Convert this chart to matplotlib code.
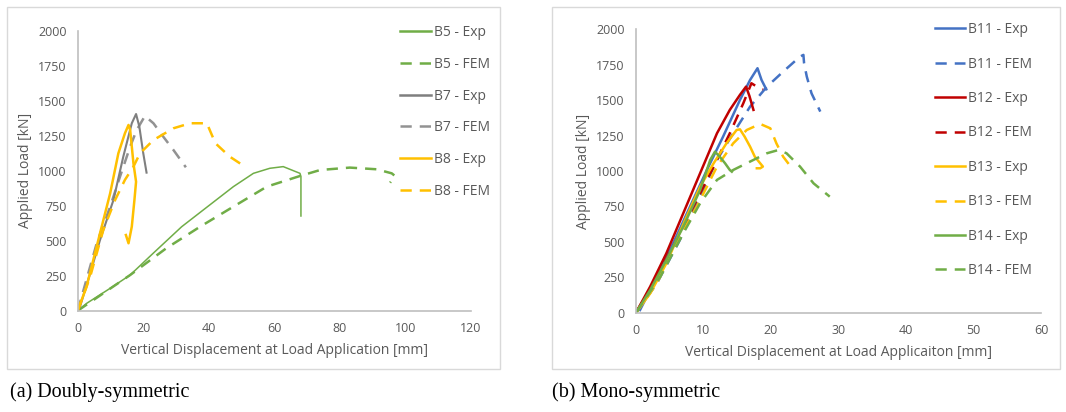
import matplotlib.pyplot as plt
from matplotlib.patches import Rectangle

plt.rcParams['font.family'] = ['Open Sans', 'DejaVu Sans']

# (a) doubly-symmetric: displacement [mm], load [kN]
b5_exp_x = [0, 2.7, 9.9, 16, 23, 31.7, 38.3, 47.5, 53.6, 58.6, 62.7, 67.8, 68.1, 68.1]
b5_exp_y = [0, 52, 160, 255, 410, 600, 720, 887, 982, 1018, 1030, 982, 960, 677]
b5_fem_x = [0, 16, 27, 37.3, 47.5, 57.7, 67.8, 74, 83, 91.2, 95.8, 96.8, 95.3]
b5_fem_y = [0, 255, 446, 600, 744, 887, 963, 1006, 1023, 1011, 982, 963, 915]
b7_exp_x = [0, 0.7, 3.8, 6.8, 10.9, 13.9, 16.5, 17.8, 18.8, 20, 21]
b7_exp_y = [0, 29, 267, 505, 791, 1101, 1340, 1406, 1316, 1125, 987]
b7_fem_x = [0, 5.8, 9.9, 12.9, 16, 18, 20.5, 23.1, 26.1, 29.2, 33]
b7_fem_y = [0, 482, 744, 958, 1173, 1292, 1392, 1340, 1244, 1149, 1025]
b8_exp_x = [0, 2.7, 6.8, 9.9, 12.4, 14.4, 15.5, 16, 16.5, 17, 17.8, 17.3, 16.5, 15.5, 14.7]
b8_exp_y = [0, 172, 553, 839, 1125, 1268, 1328, 1292, 1173, 1054, 922, 791, 601, 482, 541]
b8_fem_x = [0, 3.8, 7.8, 11.4, 14.4, 17, 19, 23.1, 29.2, 34.3, 39.4, 42, 46.4, 51]
b8_fem_y = [0, 243, 577, 791, 935, 1030, 1125, 1220, 1304, 1340, 1340, 1197, 1101, 1030]

# (b) mono-symmetric
b11_exp_x = [0.6, 3.1, 5.5, 8, 10.5, 12.9, 15.4, 16.9, 18, 18.6, 19.3]
b11_exp_y = [19, 254, 489, 748, 1007, 1242, 1501, 1642, 1725, 1642, 1576]
b11_fem_x = [0, 3.1, 6.5, 9.5, 12, 14.4, 16.9, 19.4, 21.8, 24.3, 24.8, 24.9, 25.3, 26, 27.3]
b11_fem_y = [0, 207, 513, 819, 1078, 1266, 1454, 1595, 1701, 1807, 1819, 1760, 1666, 1548, 1419]
b12_exp_x = [0, 2.1, 4.5, 7, 9.5, 12, 13.9, 15.4, 16.3, 16.8, 17.4]
b12_exp_y = [0, 184, 419, 701, 984, 1266, 1431, 1537, 1595, 1530, 1431]
b12_fem_x = [0, 2.6, 5.5, 8.5, 11.5, 13.9, 15.9, 17.1, 17.9, 18.8]
b12_fem_y = [0, 207, 466, 748, 1031, 1266, 1478, 1619, 1595, 1576]
b13_exp_x = [0, 2.1, 4.5, 6, 7.5, 9.5, 11.5, 13.4, 14.9, 15.4, 16.1, 16.9, 17.6, 18.4, 18.8, 18.4, 17.9]
b13_exp_y = [0, 136, 348, 513, 678, 889, 1054, 1195, 1289, 1294, 1242, 1172, 1101, 1054, 1031, 1019, 1019]
b13_fem_x = [0, 3.1, 6, 9, 12, 14.4, 16.4, 18.4, 19.9, 20.8, 21.8, 23.3]
b13_fem_y = [0, 207, 489, 748, 1031, 1195, 1289, 1332, 1301, 1195, 1101, 1007]
b14_exp_x = [0, 2.1, 4.5, 7, 9.5, 11, 11.7, 12.4, 13.2, 13.9, 14.2]
b14_exp_y = [0, 160, 372, 607, 866, 1078, 1136, 1101, 1054, 1007, 995]
b14_fem_x = [0, 3.6, 7, 9.5, 12, 14.4, 17.4, 19.4, 21.1, 22.3, 24.3, 26.3, 28.7]
b14_fem_y = [0, 254, 560, 772, 937, 1007, 1078, 1125, 1148, 1125, 1031, 913, 819]

GREEN = '#70AD47'
GRAY = '#7F7F7F'
ORANGE = '#FFC000'
BLUE = '#4472C4'
RED = '#C00000'
DASH = (0, (4.5, 3.2))

fig = plt.figure(figsize=(10.66, 4.12), dpi=100)

# panel frames
for x0, x1 in [(7, 500), (552, 1060)]:
    fig.patches.append(Rectangle((x0 / 1066, 1 - 369 / 412), (x1 - x0) / 1066, 362 / 412,
                                 transform=fig.transFigure, fill=False, ec='#D9D9D9', lw=1))

ax1 = fig.add_axes([0.0729, 0.2459, 0.369, 0.679])
ax2 = fig.add_axes([0.5966, 0.241, 0.380, 0.688])


def style(ax, xmax, xstep, xlabel):
    ax.set_xlim(0, xmax)
    ax.set_ylim(0, 2000)
    ax.set_xticks(range(0, xmax + 1, xstep))
    ax.set_yticks(range(0, 2001, 250))
    for s in ['top', 'right']:
        ax.spines[s].set_visible(False)
    for s in ['left', 'bottom']:
        ax.spines[s].set_color('#BFBFBF')
        ax.spines[s].set_linewidth(1.2)
    ax.tick_params(length=0, labelsize=9, colors='#595959', pad=8)
    ax.set_xlabel(xlabel, fontsize=10, color='#595959', labelpad=6)
    ax.set_ylabel('Applied Load [kN]', fontsize=10, color='#595959', labelpad=4)


ax1.plot(b5_exp_x, b5_exp_y, color=GREEN, lw=1.1, label='B5 - Exp')
ax1.plot(b5_fem_x, b5_fem_y, color=GREEN, lw=1.8, ls=DASH, label='B5 - FEM')
ax1.plot(b7_exp_x, b7_exp_y, color=GRAY, lw=1.5, label='B7 - Exp')
ax1.plot(b7_fem_x, b7_fem_y, color=GRAY, lw=1.8, ls=DASH, label='B7 - FEM', alpha=0.85)
ax1.plot(b8_exp_x, b8_exp_y, color=ORANGE, lw=1.8, label='B8 - Exp')
ax1.plot(b8_fem_x, b8_fem_y, color=ORANGE, lw=1.8, ls=DASH, label='B8 - FEM')
style(ax1, 120, 20, 'Vertical Displacement at Load Application [mm]')
leg1 = ax1.legend(loc='upper left', bbox_to_anchor=(0.82, 1.02), frameon=False, fontsize=10,
                  labelspacing=1.2, handlelength=2.2, handletextpad=0.2, borderpad=0,
                  borderaxespad=0, labelcolor='#595959')
for h in leg1.get_lines():
    h.set_linewidth(1.8)

ax2.plot(b11_exp_x, b11_exp_y, color=BLUE, lw=1.8, label='B11 - Exp')
ax2.plot(b11_fem_x, b11_fem_y, color=BLUE, lw=1.8, ls=DASH, label='B11 - FEM')
ax2.plot(b12_exp_x, b12_exp_y, color=RED, lw=1.8, label='B12 - Exp')
ax2.plot(b12_fem_x, b12_fem_y, color=RED, lw=1.8, ls=DASH, label='B12 - FEM')
ax2.plot(b13_exp_x, b13_exp_y, color=ORANGE, lw=1.8, label='B13 - Exp')
ax2.plot(b13_fem_x, b13_fem_y, color=ORANGE, lw=1.8, ls=DASH, label='B13 - FEM')
ax2.plot(b14_exp_x, b14_exp_y, color=GREEN, lw=1.8, label='B14 - Exp')
ax2.plot(b14_fem_x, b14_fem_y, color=GREEN, lw=1.8, ls=DASH, label='B14 - FEM')
style(ax2, 60, 10, 'Vertical Displacement at Load Applicaiton [mm]')
ax2.legend(loc='upper left', bbox_to_anchor=(0.738, 1.025), frameon=False, fontsize=10,
           labelspacing=1.4, handlelength=2.2, handletextpad=0.2, borderpad=0,
           borderaxespad=0, labelcolor='#595959')

fig.text(10 / 1066, 0.048, '(a) Doubly-symmetric', family='Liberation Serif', fontsize=14.5,
         va='center', color='black')
fig.text(552 / 1066, 0.048, '(b) Mono-symmetric', family='Liberation Serif', fontsize=14.5,
         va='center', color='black')

fig.savefig('out.png', dpi=100)
